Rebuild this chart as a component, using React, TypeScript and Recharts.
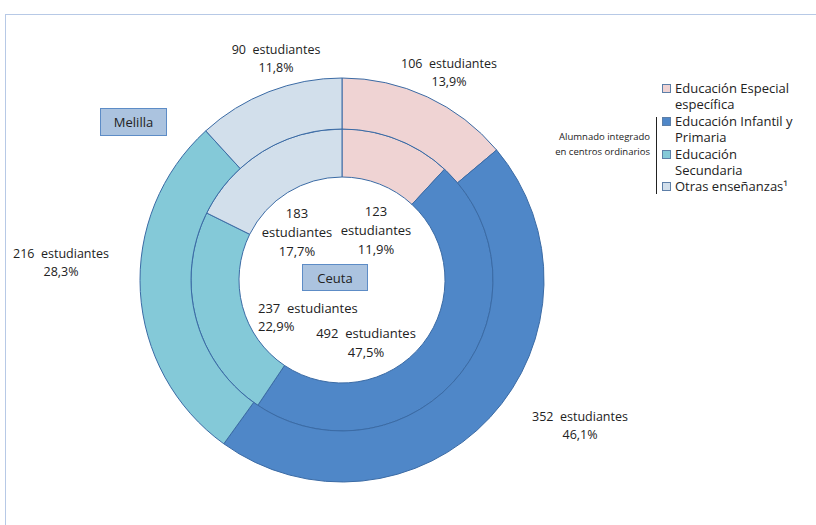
import { PieChart, Pie, Cell } from "recharts";

const categories = [
  "Educación Especial específica",
  "Educación Infantil y Primaria",
  "Educación Secundaria",
  "Otras enseñanzas¹",
];
const melillaValues = [106, 352, 216, 90];
const ceutaValues = [123, 492, 237, 183];
const colors = ["#efd3d3", "#4f87c8", "#84c9d8", "#d2dfeb"];

const melillaData = categories.map((name, i) => ({ name, value: melillaValues[i] }));
const ceutaData = categories.map((name, i) => ({ name, value: ceutaValues[i] }));

const pct = (v: number, arr: number[]) =>
  ((v / arr.reduce((a, b) => a + b, 0)) * 100).toFixed(1).replace(".", ",") + "%";

// label anchors (text centre) for each slice
const outerLabelPos = [
  { x: 449, y: 64 },
  { x: 580, y: 417 },
  { x: 61, y: 254 },
  { x: 276, y: 50 },
];

const font = "'Open Sans', sans-serif";

function OuterLabel(props: any) {
  const { index, value } = props;
  const p = outerLabelPos[index];
  return (
    <text x={p.x} y={p.y} textAnchor="middle" fontSize={12.5} fill="#222" fontFamily={font} style={{ whiteSpace: "pre" }}>
      <tspan x={p.x} dy={4}>{`${value}  estudiantes`}</tspan>
      <tspan x={p.x} dy={18}>{pct(value, melillaValues)}</tspan>
    </text>
  );
}

function InnerLabel(props: any) {
  const { index, value } = props;
  const f = { fontSize: 13, fill: "#222", fontFamily: font, style: { whiteSpace: "pre" as const } };
  if (index === 0 || index === 3) {
    const x = index === 0 ? 376 : 297;
    const y = index === 0 ? 211 : 213;
    return (
      <text x={x} y={y} textAnchor="middle" {...f}>
        <tspan x={x} dy={5}>{value}</tspan>
        <tspan x={x} dy={19}>estudiantes</tspan>
        <tspan x={x} dy={19}>{pct(value, ceutaValues)}</tspan>
      </text>
    );
  }
  if (index === 2) {
    return (
      <text x={258} y={308} textAnchor="start" {...f}>
        <tspan x={258} dy={5}>{`${value}  estudiantes`}</tspan>
        <tspan x={258} dy={18}>{pct(value, ceutaValues)}</tspan>
      </text>
    );
  }
  return (
    <text x={366} y={333} textAnchor="middle" {...f}>
      <tspan x={366} dy={5}>{`${value}  estudiantes`}</tspan>
      <tspan x={366} dy={19}>{pct(value, ceutaValues)}</tspan>
    </text>
  );
}

const legendRows = [
  { color: colors[0], lines: ["Educación Especial", "específica"] },
  { color: colors[1], lines: ["Educación Infantil y", "Primaria"] },
  { color: colors[2], lines: ["Educación", "Secundaria"] },
  { color: colors[3], lines: ["Otras enseñanzas¹"] },
];

export default function App() {
  let rowY = 80;
  return (
    <div style={{ position: "absolute", left: 0, top: 0, width: 816, height: 525, background: "#fff", overflow: "hidden" }}>
      <div
        style={{
          position: "absolute",
          left: 5,
          top: 14,
          width: 830,
          height: 530,
          border: "1.5px solid #b7c9e6",
          boxSizing: "border-box",
        }}
      />
      <div style={{ position: "absolute", left: 0, top: 0 }}>
        <PieChart width={816} height={525} margin={{ top: 0, right: 0, bottom: 0, left: 0 }}>
          <Pie
            data={ceutaData}
            dataKey="value"
            cx={342}
            cy={280}
            startAngle={90}
            endAngle={-270}
            innerRadius={103}
            outerRadius={151}
            stroke="#3b6ba5"
            strokeWidth={1}
            label={InnerLabel}
            labelLine={false}
            isAnimationActive={false}
          >
            {ceutaData.map((d, i) => (
              <Cell key={d.name} fill={colors[i]} />
            ))}
          </Pie>
          <Pie
            data={melillaData}
            dataKey="value"
            cx={342}
            cy={280}
            startAngle={90}
            endAngle={-270}
            innerRadius={151}
            outerRadius={202}
            stroke="#3b6ba5"
            strokeWidth={1}
            label={OuterLabel}
            labelLine={false}
            isAnimationActive={false}
          >
            {melillaData.map((d, i) => (
              <Cell key={d.name} fill={colors[i]} />
            ))}
          </Pie>
        </PieChart>
      </div>
      <div
        style={{
          position: "absolute",
          left: 100,
          top: 108,
          width: 67,
          height: 28,
          background: "#abc3df",
          border: "1px solid #5d8cc6",
          boxSizing: "border-box",
          fontFamily: font,
          fontSize: 13,
          color: "#222",
          display: "flex",
          alignItems: "center",
          justifyContent: "center",
        }}
      >
        Melilla
      </div>
      <div
        style={{
          position: "absolute",
          left: 302,
          top: 264,
          width: 66,
          height: 27,
          background: "#abc3df",
          border: "1px solid #5d8cc6",
          boxSizing: "border-box",
          fontFamily: font,
          fontSize: 13,
          color: "#222",
          display: "flex",
          alignItems: "center",
          justifyContent: "center",
        }}
      >
        Ceuta
      </div>
      {/* legend */}
      <div
        style={{
          position: "absolute",
          left: 480,
          top: 129,
          width: 170,
          textAlign: "right",
          fontFamily: font,
          fontSize: 9.5,
          lineHeight: "15px",
          color: "#222",
        }}
      >
        Alumnado integrado
        <br />
        en centros ordinarios
      </div>
      <div style={{ position: "absolute", left: 656, top: 117, width: 1, height: 77, background: "#222" }} />
      {legendRows.map((r) => {
        const top = rowY;
        rowY += r.lines.length * 16.4;
        return (
          <div key={r.lines[0]} style={{ position: "absolute", left: 662, top }}>
            <div
              style={{
                position: "absolute",
                left: 0,
                top: 4,
                width: 9,
                height: 9,
                background: r.color,
                border: "1px solid #5d7fa8",
                boxSizing: "border-box",
              }}
            />
            <div
              style={{
                position: "absolute",
                left: 13,
                top: 0,
                whiteSpace: "nowrap",
                fontFamily: font,
                fontSize: 13,
                lineHeight: "16.4px",
                color: "#222",
              }}
            >
              {r.lines.map((l) => (
                <div key={l}>{l}</div>
              ))}
            </div>
          </div>
        );
      })}
    </div>
  );
}
